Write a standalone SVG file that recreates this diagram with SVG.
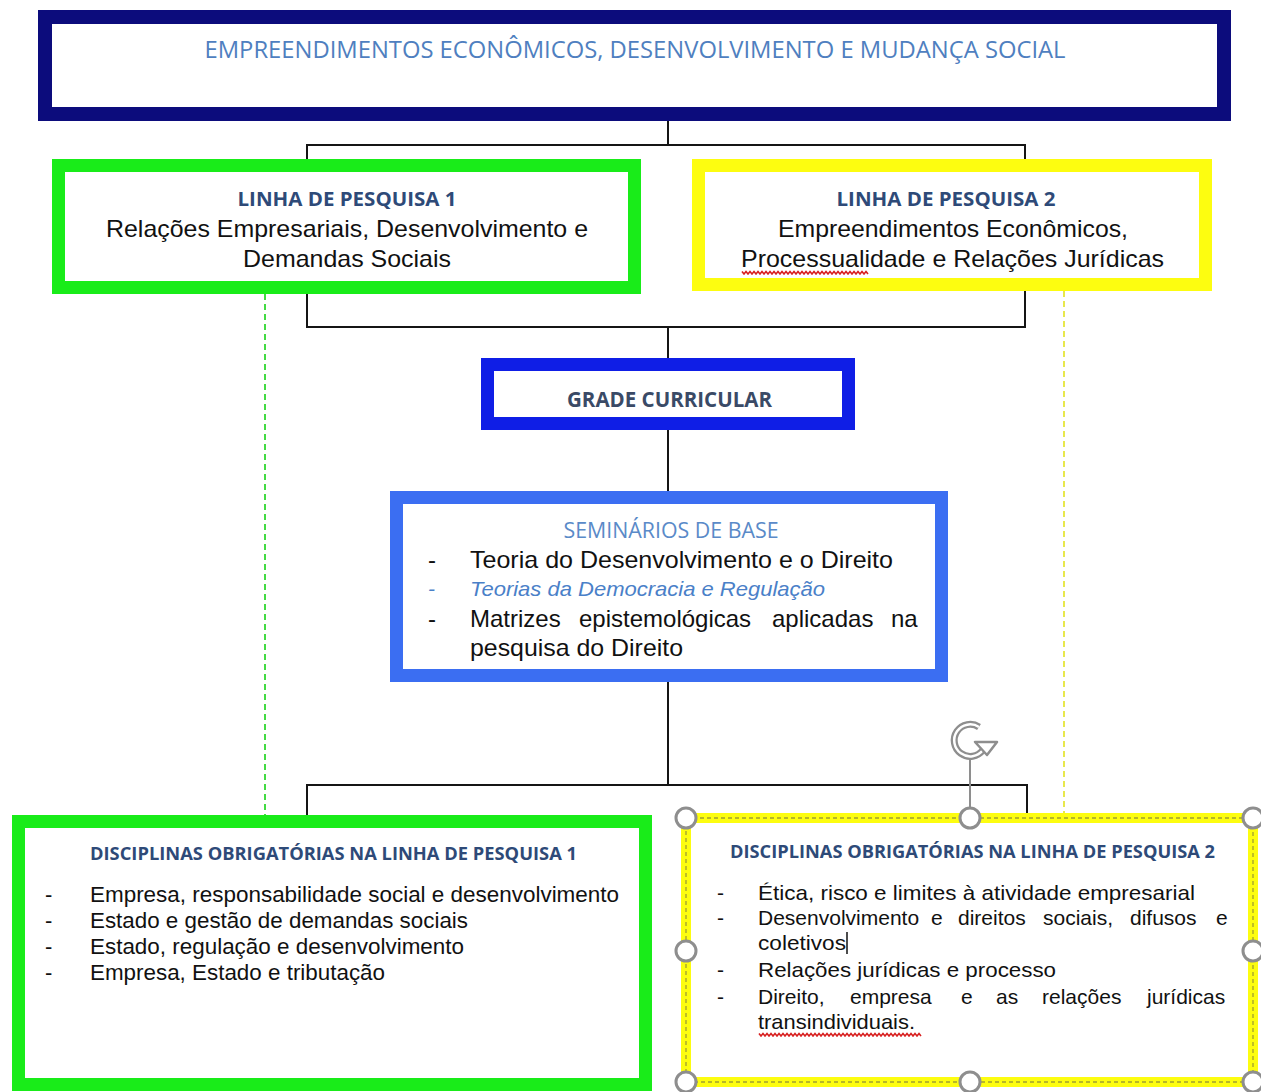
<svg xmlns="http://www.w3.org/2000/svg" width="1261" height="1092" viewBox="0 0 1261 1092">
<defs>
<style>
.box{fill:#fff}
.ttl{font-family:"Open Sans","Liberation Sans",sans-serif;font-weight:bold;fill:#2e4a78}
.body{font-family:"Liberation Sans",Arial,sans-serif;fill:#111}
.conn{fill:none;stroke:#151515;stroke-width:2}
.handle{fill:#fff;stroke:#8e8e8e;stroke-width:3}
.wavy{fill:none;stroke:#d82020;stroke-width:1.6}
</style>
</defs>
<rect x="0" y="0" width="1261" height="1092" fill="#fff"/>

<g id="connectors">
<path class="conn" d="M668,121 V145 M307,172 V145 H1025 V172"/>
<path class="conn" d="M307,282 V327 H1025 V282 M668,327 V360"/>
<path class="conn" d="M668,428 V493"/>
<path class="conn" d="M668,680 V785 M307,818 V785 H1027 V814"/>
<path d="M265,294 V816" fill="none" stroke="#30d830" stroke-width="1.8" stroke-dasharray="6 4"/>
<path d="M1064,291 V813" fill="none" stroke="#e6e63a" stroke-width="1.8" stroke-dasharray="6 4"/>
</g>

<g id="node-top">
<rect class="box" x="45" y="17" width="1179" height="97" stroke="#0c0c7c" stroke-width="14"/>
<text x="635" y="58" text-anchor="middle" font-family="Open Sans, Liberation Sans, sans-serif" font-size="24" fill="#4f7fc0" textLength="861" lengthAdjust="spacingAndGlyphs">EMPREENDIMENTOS ECONÔMICOS, DESENVOLVIMENTO E MUDANÇA SOCIAL</text>
</g>

<g id="node-linha1">
<rect class="box" x="58.5" y="165.5" width="576" height="122" stroke="#19ec19" stroke-width="13"/>
<text class="ttl" x="347" y="206" text-anchor="middle" font-size="20" textLength="219" lengthAdjust="spacingAndGlyphs">LINHA DE PESQUISA 1</text>
<text class="body" x="347" y="237" text-anchor="middle" font-size="24" textLength="482" lengthAdjust="spacingAndGlyphs">Relações Empresariais, Desenvolvimento e</text>
<text class="body" x="347" y="267" text-anchor="middle" font-size="24" textLength="208" lengthAdjust="spacingAndGlyphs">Demandas Sociais</text>
</g>

<g id="node-linha2">
<rect class="box" x="698.5" y="165.5" width="507" height="119" stroke="#fdfd10" stroke-width="13"/>
<text class="ttl" x="946" y="206" text-anchor="middle" font-size="20" textLength="219" lengthAdjust="spacingAndGlyphs">LINHA DE PESQUISA 2</text>
<text class="body" x="953" y="237" text-anchor="middle" font-size="24" textLength="350" lengthAdjust="spacingAndGlyphs">Empreendimentos Econômicos,</text>
<text class="body" x="952.5" y="267" text-anchor="middle" font-size="24" textLength="423" lengthAdjust="spacingAndGlyphs">Processualidade e Relações Jurídicas</text>
<path class="wavy" d="M742,271.5 l2,2.5 l2,-2.5 l2,2.5 l2,-2.5 l2,2.5 l2,-2.5 l2,2.5 l2,-2.5 l2,2.5 l2,-2.5 l2,2.5 l2,-2.5 l2,2.5 l2,-2.5 l2,2.5 l2,-2.5 l2,2.5 l2,-2.5 l2,2.5 l2,-2.5 l2,2.5 l2,-2.5 l2,2.5 l2,-2.5 l2,2.5 l2,-2.5 l2,2.5 l2,-2.5 l2,2.5 l2,-2.5 l2,2.5 l2,-2.5 l2,2.5 l2,-2.5 l2,2.5 l2,-2.5 l2,2.5 l2,-2.5 l2,2.5 l2,-2.5 l2,2.5 l2,-2.5 l2,2.5 l2,-2.5 l2,2.5 l2,-2.5 l2,2.5 l2,-2.5 l2,2.5 l2,-2.5 l2,2.5 l2,-2.5 l2,2.5 l2,-2.5 l2,2.5 l2,-2.5 l2,2.5 l2,-2.5 l2,2.5 l2,-2.5 l2,2.5 l2,-2.5 l2,2.5"/>
</g>

<g id="node-grade">
<rect class="box" x="487.5" y="364.5" width="361" height="59" stroke="#0f1ee6" stroke-width="13"/>
<text x="669.5" y="407" text-anchor="middle" font-family="Open Sans, Liberation Sans, sans-serif" font-weight="bold" font-size="22" fill="#3a4a66" textLength="205" lengthAdjust="spacingAndGlyphs">GRADE CURRICULAR</text>
</g>

<g id="node-seminarios">
<rect class="box" x="396.5" y="497.5" width="545" height="178" stroke="#3b6ef2" stroke-width="13"/>
<text x="671" y="538" text-anchor="middle" font-family="Open Sans, Liberation Sans, sans-serif" font-size="21" fill="#5a8ac8" textLength="215" lengthAdjust="spacingAndGlyphs">SEMINÁRIOS DE BASE</text>
<text class="body" x="428" y="568" font-size="24">-</text>
<text class="body" x="470" y="568" font-size="24" textLength="423" lengthAdjust="spacingAndGlyphs">Teoria do Desenvolvimento e o Direito</text>
<text x="428" y="596" font-family="Liberation Sans, Arial, sans-serif" font-size="21" font-style="italic" fill="#4a80c8">-</text>
<text x="470" y="596" font-family="Liberation Sans, Arial, sans-serif" font-size="21" font-style="italic" fill="#4a80c8" textLength="355" lengthAdjust="spacingAndGlyphs">Teorias da Democracia e Regulação</text>
<text class="body" x="428" y="627" font-size="24">-</text>
<text class="body" y="627" font-size="24"><tspan x="470">Matrizes</tspan><tspan x="579">epistemológicas</tspan><tspan x="772">aplicadas</tspan><tspan x="891">na</tspan></text>
<text class="body" x="470" y="656" font-size="24" textLength="213" lengthAdjust="spacingAndGlyphs">pesquisa do Direito</text>
</g>

<g id="node-disc1">
<rect class="box" x="18.5" y="821.5" width="627" height="263" stroke="#19ec19" stroke-width="13"/>
<text class="ttl" x="90" y="860" font-size="17" textLength="487" lengthAdjust="spacingAndGlyphs">DISCIPLINAS OBRIGATÓRIAS NA LINHA DE PESQUISA 1</text>
<g class="body" font-size="22">
<text x="45" y="902">-</text><text x="90" y="902" textLength="529" lengthAdjust="spacingAndGlyphs">Empresa, responsabilidade social e desenvolvimento</text>
<text x="45" y="928">-</text><text x="90" y="928" textLength="378" lengthAdjust="spacingAndGlyphs">Estado e gestão de demandas sociais</text>
<text x="45" y="954">-</text><text x="90" y="954" textLength="374" lengthAdjust="spacingAndGlyphs">Estado, regulação e desenvolvimento</text>
<text x="45" y="980">-</text><text x="90" y="980" textLength="295" lengthAdjust="spacingAndGlyphs">Empresa, Estado e tributação</text>
</g>
</g>

<g id="node-disc2">
<rect class="box" x="686" y="818" width="567" height="264" stroke="#fdfd10" stroke-width="10"/>
<rect x="686" y="818" width="567" height="264" fill="none" stroke="#a0a030" stroke-width="1.3" stroke-dasharray="4 3"/>
<text class="ttl" x="730" y="858" font-size="17" textLength="485" lengthAdjust="spacingAndGlyphs">DISCIPLINAS OBRIGATÓRIAS NA LINHA DE PESQUISA 2</text>
<g class="body" font-size="21">
<text x="717" y="900">-</text><text x="758" y="900" textLength="437" lengthAdjust="spacingAndGlyphs">Ética, risco e limites à atividade empresarial</text>
<text x="717" y="925">-</text>
<text y="925"><tspan x="758">Desenvolvimento</tspan><tspan x="931">e</tspan><tspan x="958">direitos</tspan><tspan x="1043">sociais,</tspan><tspan x="1130">difusos</tspan><tspan x="1216">e</tspan></text>
<text x="758" y="950" textLength="88" lengthAdjust="spacingAndGlyphs">coletivos</text>
<text x="717" y="977">-</text><text x="758" y="977" textLength="298" lengthAdjust="spacingAndGlyphs">Relações jurídicas e processo</text>
<text x="717" y="1004">-</text>
<text y="1004"><tspan x="758">Direito,</tspan><tspan x="850">empresa</tspan><tspan x="961">e</tspan><tspan x="996">as</tspan><tspan x="1042">relações</tspan><tspan x="1147">jurídicas</tspan></text>
<text x="758" y="1029" textLength="157" lengthAdjust="spacingAndGlyphs">transindividuais.</text>
</g>
<path d="M847,932 V954" stroke="#111" stroke-width="1.5"/>
<path class="wavy" d="M759,1033.5 l2,2.5 l2,-2.5 l2,2.5 l2,-2.5 l2,2.5 l2,-2.5 l2,2.5 l2,-2.5 l2,2.5 l2,-2.5 l2,2.5 l2,-2.5 l2,2.5 l2,-2.5 l2,2.5 l2,-2.5 l2,2.5 l2,-2.5 l2,2.5 l2,-2.5 l2,2.5 l2,-2.5 l2,2.5 l2,-2.5 l2,2.5 l2,-2.5 l2,2.5 l2,-2.5 l2,2.5 l2,-2.5 l2,2.5 l2,-2.5 l2,2.5 l2,-2.5 l2,2.5 l2,-2.5 l2,2.5 l2,-2.5 l2,2.5 l2,-2.5 l2,2.5 l2,-2.5 l2,2.5 l2,-2.5 l2,2.5 l2,-2.5 l2,2.5 l2,-2.5 l2,2.5 l2,-2.5 l2,2.5 l2,-2.5 l2,2.5 l2,-2.5 l2,2.5 l2,-2.5 l2,2.5 l2,-2.5 l2,2.5 l2,-2.5 l2,2.5 l2,-2.5 l2,2.5 l2,-2.5 l2,2.5 l2,-2.5 l2,2.5 l2,-2.5 l2,2.5 l2,-2.5 l2,2.5 l2,-2.5 l2,2.5 l2,-2.5 l2,2.5 l2,-2.5 l2,2.5 l2,-2.5 l2,2.5 l2,-2.5 l2,2.5"/>
<g id="selection-handles">
<path d="M970,757 V808" stroke="#8e8e8e" stroke-width="2"/>
<path d="M979,727 A16,16 0 1 0 983,750" fill="none" stroke="#8e8e8e" stroke-width="7"/>
<path d="M979,727 A16,16 0 1 0 983,750" fill="none" stroke="#fff" stroke-width="2.5"/>
<path d="M975,742 L997,742 L987,755 Z" fill="#fff" stroke="#8e8e8e" stroke-width="2.5" stroke-linejoin="round"/>
<circle class="handle" cx="686" cy="818" r="10"/>
<circle class="handle" cx="970" cy="818" r="10"/>
<circle class="handle" cx="1253" cy="818" r="10"/>
<circle class="handle" cx="686" cy="951" r="10"/>
<circle class="handle" cx="1253" cy="951" r="10"/>
<circle class="handle" cx="686" cy="1082" r="10"/>
<circle class="handle" cx="970" cy="1082" r="10"/>
<circle class="handle" cx="1253" cy="1082" r="10"/>
</g>
</g>
</svg>
